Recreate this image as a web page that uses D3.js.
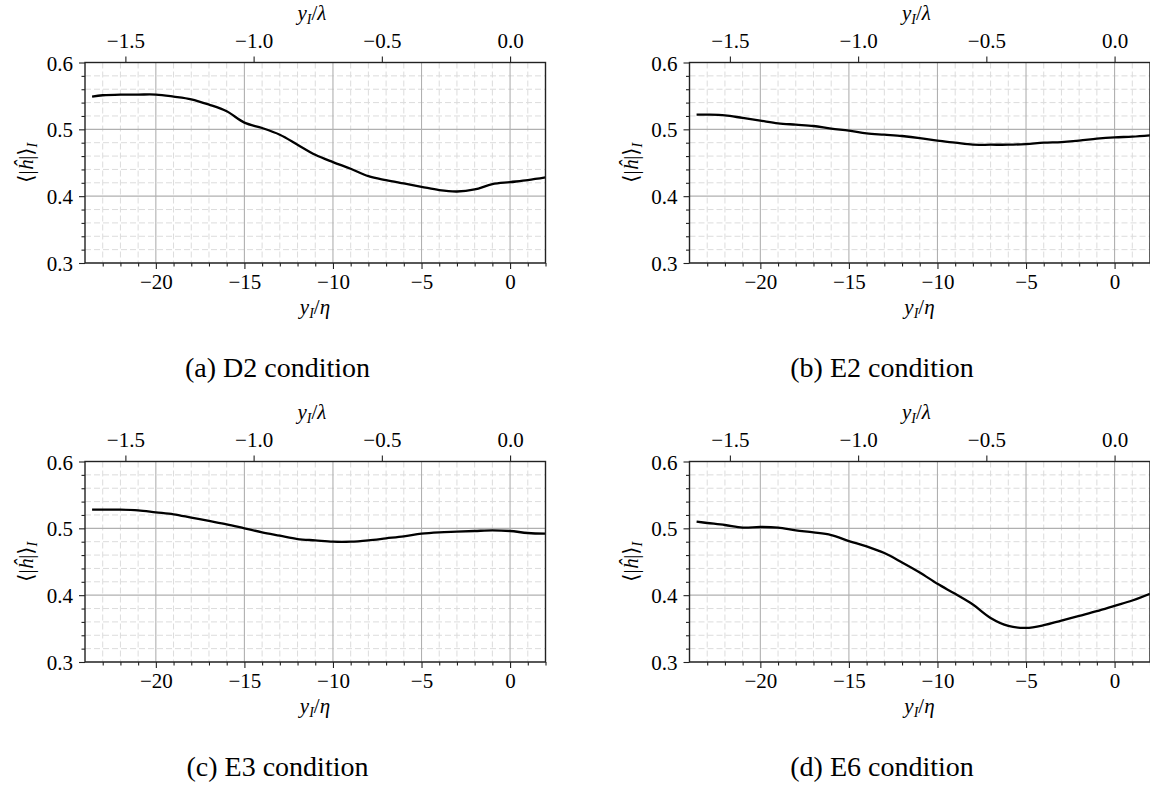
<!DOCTYPE html>
<html>
<head>
<meta charset="utf-8">
<script src="https://cdn.jsdelivr.net/npm/d3@7"></script>
<style>
  html, body { margin: 0; padding: 0; background: #fff; }
  svg { display: block; }
  svg text { font-family: "Liberation Serif", "Tinos", "Times New Roman", "DejaVu Serif", serif !important; }
  .tick text { font-size: 21px; fill: #000; }
</style>
</head>
<body>
<svg id="chart" width="1150" height="785"></svg>
<script>
// ---- data ----
const xEta = [-23.6, -23, -22, -21, -20, -19, -18, -17, -16, -15, -14, -13, -12, -11, -10, -9, -8, -7, -6, -5, -4, -3, -2, -1, 0, 1, 2];
const hD2 = [0.549, 0.551, 0.552, 0.552, 0.552, 0.549, 0.545, 0.537, 0.527, 0.510, 0.502, 0.492, 0.477, 0.462, 0.451, 0.441, 0.430, 0.424, 0.419, 0.414, 0.409, 0.407, 0.410, 0.418, 0.421, 0.424, 0.428];
const hE2 = [0.522, 0.522, 0.521, 0.517, 0.513, 0.509, 0.507, 0.505, 0.501, 0.498, 0.494, 0.492, 0.490, 0.487, 0.483, 0.480, 0.477, 0.477, 0.477, 0.478, 0.480, 0.481, 0.483, 0.486, 0.488, 0.489, 0.491];
const hE3 = [0.528, 0.528, 0.528, 0.527, 0.524, 0.521, 0.516, 0.511, 0.506, 0.500, 0.494, 0.489, 0.484, 0.482, 0.480, 0.480, 0.482, 0.485, 0.488, 0.492, 0.494, 0.495, 0.496, 0.497, 0.496, 0.493, 0.492];
const hE6 = [0.510, 0.508, 0.505, 0.501, 0.502, 0.501, 0.497, 0.494, 0.490, 0.481, 0.473, 0.463, 0.449, 0.434, 0.417, 0.402, 0.386, 0.366, 0.354, 0.351, 0.355, 0.362, 0.369, 0.376, 0.384, 0.392, 0.402];
const captions = ["(a) D2 condition", "(b) E2 condition", "(c) E3 condition", "(d) E6 condition"];
const xDomain = [-24, 2];
const yDomain = [0.3, 0.6];
const lambdaOverEta = 14.48;
const xTicks = [-20, -15, -10, -5, 0];
const xTopTicks = [-1.5, -1.0, -0.5, 0.0];
const yTicks = [0.3, 0.4, 0.5, 0.6];

const series = [hD2, hE2, hE3, hE6];

// ---- layout ----
const W = 460.5, H = 200.5;
const lefts = [85, 689.5];
const tops = [62.5, 461.5];
const capX = [277.5, 882];
const capY = [377, 776];

const svg = d3.select("#chart");
const serif = '"Liberation Serif", "Tinos", "Times New Roman", "DejaVu Serif", serif';

function mathLabel(sel, base, sub, tail) {
  sel.append("tspan").attr("font-style", "italic").text(base);
  sel.append("tspan").attr("font-style", "italic").attr("font-size", "14px").attr("dy", 4).text(sub);
  sel.append("tspan").attr("dy", -4).text(tail[0]);
  sel.append("tspan").attr("font-style", "italic").text(tail[1]);
}

series.forEach((vals, i) => {
  const col = i % 2, row = Math.floor(i / 2);
  const L = lefts[col], T = tops[row];
  const g = svg.append("g").attr("transform", `translate(${L},${T})`);

  const x = d3.scaleLinear().domain(xDomain).range([0, W]);
  const xl = d3.scaleLinear().domain([xDomain[0] / lambdaOverEta, xDomain[1] / lambdaOverEta]).range([0, W]);
  const y = d3.scaleLinear().domain(yDomain).range([H, 0]);

  const xMinor = d3.range(-23, 2.001, 1).filter(v => !xTicks.includes(v));
  const yMinor = d3.range(0.32, 0.6, 0.02).filter(v => Math.abs(Math.round(v * 10) - v * 10) > 1e-6);

  // minor grid (dashed)
  const grid = g.append("g");
  grid.selectAll(".vmin").data(xMinor).join("line")
    .attr("x1", d => x(d)).attr("x2", d => x(d)).attr("y1", 0).attr("y2", H)
    .attr("stroke", "#dcdcdc").attr("stroke-width", 1).attr("stroke-dasharray", "6,3");
  grid.selectAll(".hmin").data(yMinor).join("line")
    .attr("x1", 0).attr("x2", W).attr("y1", d => y(d)).attr("y2", d => y(d))
    .attr("stroke", "#dcdcdc").attr("stroke-width", 1).attr("stroke-dasharray", "6,3");
  // major grid
  grid.selectAll(".vmaj").data(xTicks).join("line")
    .attr("x1", d => x(d)).attr("x2", d => x(d)).attr("y1", 0).attr("y2", H)
    .attr("stroke", "#b0b0b0").attr("stroke-width", 1.1);
  grid.selectAll(".hmaj").data(yTicks).join("line")
    .attr("x1", 0).attr("x2", W).attr("y1", d => y(d)).attr("y2", d => y(d))
    .attr("stroke", "#b0b0b0").attr("stroke-width", 1.1);

  // data line
  const line = d3.line().x((d, k) => x(xEta[k])).y(d => y(d)).curve(d3.curveCatmullRom.alpha(0.5));
  g.append("path").datum(vals).attr("d", line)
    .attr("fill", "none").attr("stroke", "#000").attr("stroke-width", 2.3).attr("stroke-linejoin", "round");

  // axes
  const fmtInt = d3.format("d");
  const fmt1 = d3.format(".1f");
  const bx = g.append("g").attr("transform", `translate(0,${H})`)
    .call(d3.axisBottom(x).tickValues(xTicks).tickFormat(fmtInt).tickSize(6).tickPadding(4));
  const bxm = g.append("g").attr("transform", `translate(0,${H})`)
    .call(d3.axisBottom(x).tickValues(xMinor).tickFormat("").tickSize(3.5));
  const tx = g.append("g")
    .call(d3.axisTop(xl).tickValues(xTopTicks).tickFormat(fmt1).tickSize(6).tickPadding(9));
  const ly = g.append("g")
    .call(d3.axisLeft(y).tickValues(yTicks).tickFormat(fmt1).tickSize(6).tickPadding(6));
  const lym = g.append("g")
    .call(d3.axisLeft(y).tickValues(yMinor).tickFormat("").tickSize(3.5));
  [bx, bxm, tx, ly, lym].forEach(a => {
    a.attr("font-family", null);
    a.select(".domain").remove();
    a.selectAll(".tick line").attr("stroke", "#222").attr("stroke-width", 1.1);
  });
  bx.selectAll(".tick text").attr("dy", "0.78em");
  ly.selectAll(".tick text").attr("dy", "0.36em");

  // frame
  g.append("rect").attr("x", 0).attr("y", 0).attr("width", W).attr("height", H)
    .attr("fill", "none").attr("stroke", "#222").attr("stroke-width", 1.4);

  // axis labels
  const lblB = g.append("text").attr("x", 230).attr("y", H + 51)
    .attr("text-anchor", "middle").attr("font-family", serif).attr("font-size", "21px");
  mathLabel(lblB, "y", "I", ["/", "η"]);
  const lblT = g.append("text").attr("x", 227).attr("y", -43)
    .attr("text-anchor", "middle").attr("font-family", serif).attr("font-size", "21px");
  mathLabel(lblT, "y", "I", ["/", "λ"]);

  const lblY = g.append("text")
    .attr("transform", `translate(-52,${H / 2}) rotate(-90)`)
    .attr("text-anchor", "middle").attr("font-family", serif).attr("font-size", "21px");
  lblY.append("tspan").text("⟨|");
  lblY.append("tspan").attr("font-style", "italic").text("ĥ");
  lblY.append("tspan").text("|⟩");
  lblY.append("tspan").attr("font-style", "italic").attr("font-size", "14px").attr("dy", 4).text("I");

  // caption
  svg.append("text").attr("x", capX[col]).attr("y", capY[row])
    .attr("text-anchor", "middle").attr("font-family", serif).attr("font-size", "28px")
    .text(captions[i]);
});
</script>
</body>
</html>
